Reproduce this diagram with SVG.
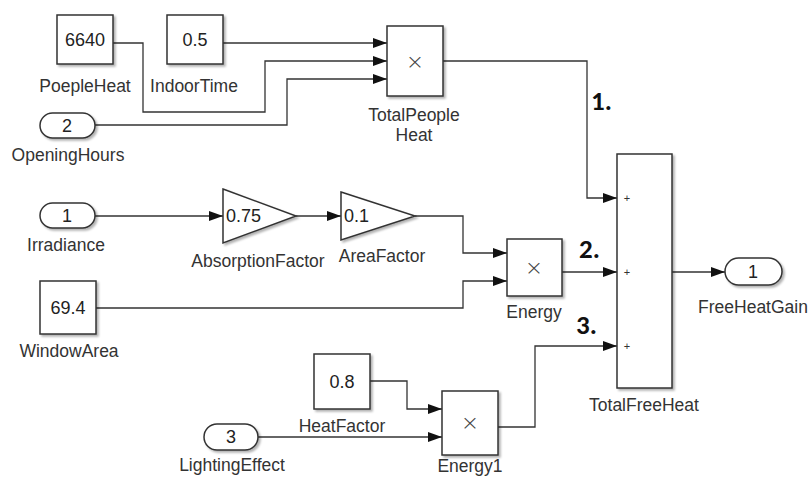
<svg xmlns="http://www.w3.org/2000/svg" width="811" height="477" viewBox="0 0 811 477">
<defs>
<marker id="arr" markerUnits="userSpaceOnUse" viewBox="0 0 14 10" refX="14" refY="5" markerWidth="14" markerHeight="10" orient="auto">
<path d="M0,0 L14,5 L0,10 z" fill="#111"/>
</marker>
<filter id="sh" x="-10%" y="-10%" width="130%" height="130%">
<feDropShadow dx="2" dy="2" stdDeviation="1" flood-color="#000" flood-opacity="0.3"/>
</filter>
</defs>
<style>
.blk{fill:#fff;stroke:#333;stroke-width:1.5;filter:url(#sh)}
.lbl{font-family:"Liberation Sans",Arial,sans-serif;font-size:17.5px;fill:#333;text-anchor:middle}
.val{font-family:"Liberation Sans",Arial,sans-serif;font-size:18px;fill:#222;text-anchor:middle}
.gval{font-family:"Liberation Sans",Arial,sans-serif;font-size:18px;fill:#222}
.mul{font-family:"DejaVu Sans",sans-serif;font-size:22px;font-weight:200;fill:#444;text-anchor:middle}
.plus{font-family:"Liberation Sans",Arial,sans-serif;font-size:11px;fill:#333;text-anchor:middle}
.num{font-family:"Carlito","Liberation Sans",Arial,sans-serif;font-size:27px;font-weight:bold;fill:#111}
.ln{fill:none;stroke:#333;stroke-width:1.3}
.ar{marker-end:url(#arr)}
</style>
<rect width="811" height="477" fill="#fff"/>

<g id="connectors">
<path class="ln ar" d="M113,43 H143 V112 H265 V61 H387"/>
<path class="ln ar" d="M223,43 H387"/>
<path class="ln ar" d="M95,125 H287 V79 H387"/>
<path class="ln ar" d="M443,61 H587 V198 H617"/>
<path class="ln ar" d="M95,216 H223"/>
<path class="ln ar" d="M296,216 H341"/>
<path class="ln ar" d="M415,216 H463 V253 H507"/>
<path class="ln ar" d="M96,308 H463 V281 H507"/>
<path class="ln ar" d="M562,272 H617"/>
<path class="ln ar" d="M672,272 H725"/>
<path class="ln ar" d="M370,381 H407 V409 H442"/>
<path class="ln ar" d="M258,437 H442"/>
<path class="ln ar" d="M498,427 H535 V346 H617"/>
</g>

<g id="PoepleHeat">
<rect class="blk" x="57" y="15" width="56" height="49"/>
<text class="val" x="85" y="46">6640</text>
<text class="lbl" x="85" y="92">PoepleHeat</text>
</g>

<g id="IndoorTime">
<rect class="blk" x="167" y="15" width="56" height="49"/>
<text class="val" x="195" y="46">0.5</text>
<text class="lbl" x="194" y="92">IndoorTime</text>
</g>

<g id="OpeningHours">
<rect class="blk" x="40" y="113" width="55" height="25" rx="12.5"/>
<text class="val" x="67" y="132">2</text>
<text class="lbl" x="68" y="161">OpeningHours</text>
</g>

<g id="TotalPeopleHeat">
<rect class="blk" x="387" y="26" width="56" height="70"/>
<text class="mul" x="415" y="69">×</text>
<text class="lbl" x="414" y="121">TotalPeople</text>
<text class="lbl" x="414" y="141">Heat</text>
</g>

<g id="label1">
<text class="num" x="591" y="110">1.</text>
</g>

<g id="Irradiance">
<rect class="blk" x="40" y="203" width="55" height="25" rx="12.5"/>
<text class="val" x="67" y="222">1</text>
<text class="lbl" x="66" y="251">Irradiance</text>
</g>

<g id="AbsorptionFactor">
<path class="blk" d="M223,189 L296,216 L223,243 z"/>
<text class="gval" x="226" y="222">0.75</text>
<text class="lbl" x="258" y="267">AbsorptionFactor</text>
</g>

<g id="AreaFactor">
<path class="blk" d="M341,192 L415,216 L341,240 z"/>
<text class="gval" x="344" y="222">0.1</text>
<text class="lbl" x="382" y="262">AreaFactor</text>
</g>

<g id="WindowArea">
<rect class="blk" x="40" y="281" width="56" height="53"/>
<text class="val" x="68" y="314">69.4</text>
<text class="lbl" x="69" y="357">WindowArea</text>
</g>

<g id="Energy">
<rect class="blk" x="507" y="239" width="55" height="57"/>
<text class="mul" x="534" y="275">×</text>
<text class="lbl" x="534" y="318">Energy</text>
</g>

<g id="label2">
<text class="num" x="579" y="258">2.</text>
</g>

<g id="label3">
<text class="num" x="576" y="334">3.</text>
</g>

<g id="TotalFreeHeat">
<rect class="blk" x="617" y="154" width="55" height="234"/>
<text class="plus" x="627" y="202">+</text>
<text class="plus" x="627" y="276">+</text>
<text class="plus" x="627" y="350">+</text>
<text class="lbl" x="644" y="411">TotalFreeHeat</text>
</g>

<g id="FreeHeatGain">
<rect class="blk" x="725" y="258" width="57" height="27" rx="13.5"/>
<text class="val" x="753" y="278">1</text>
<text class="lbl" x="753" y="313">FreeHeatGain</text>
</g>

<g id="HeatFactor">
<rect class="blk" x="314" y="354" width="56" height="55"/>
<text class="val" x="342" y="388">0.8</text>
<text class="lbl" x="342" y="432">HeatFactor</text>
</g>

<g id="LightingEffect">
<rect class="blk" x="204" y="424" width="54" height="26" rx="13"/>
<text class="val" x="231" y="443">3</text>
<text class="lbl" x="232" y="471">LightingEffect</text>
</g>

<g id="Energy1">
<rect class="blk" x="442" y="391" width="56" height="64"/>
<text class="mul" x="470" y="430">×</text>
<text class="lbl" x="470" y="472">Energy1</text>
</g>
</svg>
